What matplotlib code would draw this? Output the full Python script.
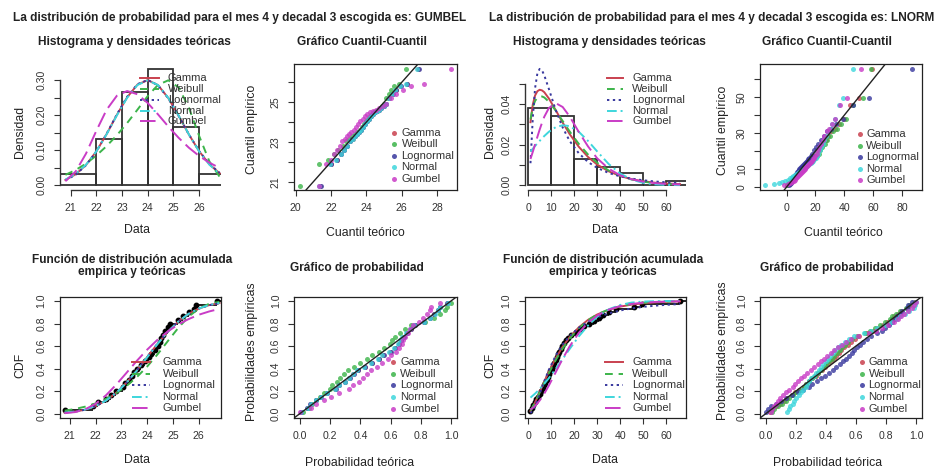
import matplotlib

matplotlib.use("Agg")
import matplotlib.pyplot as plt
import numpy as np

plt.rcParams["font.family"] = ["Liberation Sans", "DejaVu Sans"]

W, H = 939, 472

# ── Data: left block (GUMBEL chosen) ─────────────────────────
DISTS = ["Gamma", "Weibull", "Lognormal", "Normal", "Gumbel"]

hist_L_edges = [20, 22, 23, 24, 25, 26, 27]
hist_L_dens = [0.033, 0.133, 0.267, 0.333, 0.167, 0.033]

grid_L = [20.8, 21.2, 21.6, 22.0, 22.4, 22.8, 23.2, 23.6, 24.0, 24.4, 24.8, 25.2, 25.6, 26.0, 26.4, 26.8]
dens_L_gamma = [0.0155, 0.0316, 0.0582, 0.0966, 0.1463, 0.2011, 0.2515, 0.2878, 0.3005, 0.2863, 0.2493, 0.1991, 0.1455, 0.0974, 0.0600, 0.0342]
dens_L_weibull = [0.030, 0.044, 0.062, 0.085, 0.112, 0.143, 0.178, 0.216, 0.255, 0.287, 0.300, 0.280, 0.222, 0.141, 0.068, 0.024]
dens_L_lnorm = [0.0145, 0.0305, 0.0575, 0.0965, 0.1470, 0.2025, 0.2530, 0.2890, 0.3010, 0.2860, 0.2485, 0.1985, 0.1455, 0.0980, 0.0610, 0.0355]
dens_L_norm = [0.0165, 0.0328, 0.0589, 0.0968, 0.1456, 0.1998, 0.2501, 0.2866, 0.2999, 0.2866, 0.2501, 0.1998, 0.1456, 0.0968, 0.0589, 0.0328]
dens_L_gumbel = [0.0119, 0.0398, 0.0906, 0.1554, 0.2157, 0.2559, 0.2695, 0.2602, 0.2352, 0.2027, 0.1681, 0.1359, 0.1075, 0.0839, 0.0647, 0.0494]

cdf_L_gamma = [0.0072, 0.0166, 0.0347, 0.0660, 0.1146, 0.1842, 0.2748, 0.3833, 0.5015, 0.6197, 0.7272, 0.8167, 0.8852, 0.9328, 0.9635, 0.9815]
cdf_L_weibull = [0.025, 0.040, 0.061, 0.090, 0.130, 0.181, 0.245, 0.324, 0.418, 0.526, 0.644, 0.760, 0.860, 0.933, 0.975, 0.993]
cdf_L_lnorm = [0.0065, 0.0158, 0.0340, 0.0656, 0.1148, 0.1850, 0.2760, 0.3850, 0.5030, 0.6210, 0.7280, 0.8170, 0.8850, 0.9320, 0.9625, 0.9805]
cdf_L_norm = [0.0081, 0.0176, 0.0355, 0.0663, 0.1145, 0.1835, 0.2736, 0.3817, 0.5000, 0.6183, 0.7264, 0.8165, 0.8855, 0.9337, 0.9645, 0.9824]
cdf_L_gumbel = [0.0028, 0.0124, 0.0377, 0.0867, 0.1614, 0.2567, 0.3624, 0.4690, 0.5680, 0.6560, 0.7300, 0.7910, 0.8390, 0.8780, 0.9070, 0.9300]

sample_L = [20.8, 21.9, 22.1, 22.4, 22.6, 22.8, 23.05, 23.15, 23.3, 23.4, 23.5, 23.6, 23.75, 23.9, 24.05,
            24.15, 24.3, 24.4, 24.5, 24.55, 24.6, 24.7, 24.8, 24.9, 25.2, 25.4, 25.6, 25.8, 25.9, 26.7]
ecdf_L = [0.033, 0.067, 0.100, 0.133, 0.167, 0.200, 0.233, 0.267, 0.300, 0.333, 0.367, 0.400, 0.433, 0.467, 0.500,
          0.533, 0.567, 0.600, 0.633, 0.667, 0.700, 0.733, 0.767, 0.800, 0.833, 0.867, 0.900, 0.933, 0.967, 1.000]
pp_L = [0.017, 0.050, 0.083, 0.117, 0.150, 0.183, 0.217, 0.250, 0.283, 0.317, 0.350, 0.383, 0.417, 0.450, 0.483,
        0.517, 0.550, 0.583, 0.617, 0.650, 0.683, 0.717, 0.750, 0.783, 0.817, 0.850, 0.883, 0.917, 0.950, 0.983]

qq_L_gamma = [21.39, 21.99, 22.32, 22.56, 22.76, 22.93, 23.08, 23.22, 23.35, 23.47, 23.59, 23.70, 23.82, 23.93, 24.04,
              24.15, 24.26, 24.37, 24.49, 24.60, 24.72, 24.85, 24.99, 25.13, 25.29, 25.47, 25.68, 25.93, 26.28, 26.93]
qq_L_weibull = [20.25, 21.30, 21.80, 22.15, 22.42, 22.65, 22.85, 23.03, 23.20, 23.35, 23.49, 23.62, 23.75, 23.87, 23.99,
                24.10, 24.21, 24.32, 24.43, 24.54, 24.65, 24.76, 24.88, 25.00, 25.12, 25.26, 25.41, 25.59, 25.83, 26.25]
qq_L_lnorm = [21.42, 22.01, 22.33, 22.57, 22.76, 22.93, 23.08, 23.21, 23.34, 23.46, 23.58, 23.69, 23.81, 23.92, 24.03,
              24.14, 24.25, 24.36, 24.48, 24.60, 24.72, 24.85, 24.99, 25.14, 25.30, 25.49, 25.70, 25.96, 26.32, 26.98]
qq_L_norm = [21.33, 21.96, 22.30, 22.55, 22.75, 22.93, 23.08, 23.22, 23.36, 23.48, 23.60, 23.71, 23.83, 23.94, 24.05,
             24.15, 24.26, 24.37, 24.49, 24.60, 24.72, 24.84, 24.98, 25.12, 25.27, 25.45, 25.65, 25.90, 26.24, 26.87]
qq_L_gumbel = [21.30, 21.72, 21.98, 22.18, 22.35, 22.50, 22.64, 22.77, 22.90, 23.03, 23.15, 23.28, 23.40, 23.53, 23.66,
               23.79, 23.92, 24.06, 24.21, 24.37, 24.54, 24.72, 24.92, 25.14, 25.40, 25.70, 26.07, 26.55, 27.27, 28.80]

pp_L_gamma = [0.005, 0.050, 0.070, 0.108, 0.141, 0.179, 0.234, 0.259, 0.298, 0.325, 0.354, 0.383, 0.428, 0.474, 0.520,
              0.551, 0.596, 0.626, 0.654, 0.668, 0.682, 0.709, 0.734, 0.759, 0.823, 0.859, 0.890, 0.916, 0.927, 0.979]
pp_L_weibull = [0.020, 0.062, 0.078, 0.107, 0.130, 0.157, 0.197, 0.215, 0.245, 0.267, 0.290, 0.315, 0.355, 0.398, 0.443,
                0.475, 0.525, 0.559, 0.594, 0.611, 0.629, 0.664, 0.698, 0.733, 0.830, 0.886, 0.930, 0.962, 0.974, 0.999]
pp_L_lnorm = [0.004, 0.047, 0.067, 0.106, 0.140, 0.179, 0.235, 0.261, 0.300, 0.328, 0.357, 0.386, 0.432, 0.478, 0.524,
              0.555, 0.600, 0.630, 0.658, 0.672, 0.686, 0.712, 0.737, 0.761, 0.824, 0.859, 0.889, 0.914, 0.925, 0.976]
pp_L_norm = [0.007, 0.053, 0.072, 0.109, 0.141, 0.178, 0.232, 0.257, 0.295, 0.322, 0.350, 0.379, 0.424, 0.469, 0.515,
             0.546, 0.591, 0.621, 0.650, 0.664, 0.678, 0.705, 0.731, 0.756, 0.822, 0.859, 0.891, 0.917, 0.928, 0.981]
pp_L_gumbel = [0.003, 0.072, 0.103, 0.161, 0.207, 0.257, 0.322, 0.349, 0.389, 0.416, 0.443, 0.469, 0.508, 0.544, 0.580,
               0.603, 0.636, 0.656, 0.676, 0.685, 0.695, 0.713, 0.730, 0.747, 0.791, 0.817, 0.839, 0.860, 0.869, 0.925]

# ── Data: right block (LNORM chosen) ─────────────────────────
hist_R_edges = [0, 10, 20, 30, 40, 50, 60, 70]
hist_R_dens = [0.0378, 0.0340, 0.0128, 0.0090, 0.0058, 0.0, 0.0020]

grid_R = [1, 2, 3, 4, 5, 6, 7, 9, 12, 15, 18, 22, 26, 30, 35, 40, 45, 50, 55, 60, 66]
dens_R_gamma = [0.0310, 0.0397, 0.0442, 0.0463, 0.0470, 0.0467, 0.0458, 0.0427, 0.0369, 0.0308, 0.0252, 0.0189, 0.0139, 0.0101, 0.0068, 0.0045, 0.0029, 0.0019, 0.0012, 0.0008, 0.0005]
dens_R_weibull = [0.0324, 0.0384, 0.0415, 0.0431, 0.0437, 0.0437, 0.0432, 0.0411, 0.0367, 0.0316, 0.0265, 0.0203, 0.0151, 0.0110, 0.0072, 0.0046, 0.0028, 0.0017, 0.0010, 0.0006, 0.0003]
dens_R_lnorm = [0.0108, 0.0330, 0.0478, 0.0551, 0.0573, 0.0566, 0.0541, 0.0474, 0.0369, 0.0284, 0.0218, 0.0157, 0.0114, 0.0085, 0.0060, 0.0043, 0.0032, 0.0024, 0.0018, 0.0014, 0.0010]
dens_R_norm = [0.0166, 0.0179, 0.0193, 0.0206, 0.0218, 0.0231, 0.0242, 0.0263, 0.0286, 0.0295, 0.0291, 0.0263, 0.0218, 0.0166, 0.0104, 0.0057, 0.0027, 0.0011, 0.0004, 0.0001, 0.0000]
dens_R_gumbel = [0.0129, 0.0164, 0.0201, 0.0238, 0.0274, 0.0307, 0.0337, 0.0380, 0.0404, 0.0385, 0.0339, 0.0262, 0.0191, 0.0132, 0.0081, 0.0048, 0.0029, 0.0017, 0.0010, 0.0006, 0.0003]

cdf_R_gamma = [0.022, 0.057, 0.099, 0.144, 0.191, 0.238, 0.284, 0.372, 0.492, 0.594, 0.678, 0.766, 0.832, 0.880, 0.922, 0.950, 0.968, 0.980, 0.988, 0.993, 0.997]
cdf_R_weibull = [0.025, 0.061, 0.101, 0.143, 0.187, 0.231, 0.274, 0.359, 0.476, 0.578, 0.665, 0.758, 0.829, 0.881, 0.925, 0.954, 0.973, 0.984, 0.991, 0.995, 0.997]
cdf_R_lnorm = [0.003, 0.026, 0.067, 0.119, 0.175, 0.232, 0.288, 0.389, 0.516, 0.613, 0.688, 0.762, 0.815, 0.855, 0.890, 0.916, 0.934, 0.948, 0.958, 0.966, 0.973]
cdf_R_norm = [0.141, 0.159, 0.177, 0.197, 0.218, 0.241, 0.264, 0.315, 0.398, 0.485, 0.573, 0.685, 0.782, 0.859, 0.926, 0.965, 0.986, 0.995, 0.998, 1.000, 1.000]
cdf_R_gumbel = [0.035, 0.050, 0.068, 0.090, 0.116, 0.145, 0.177, 0.249, 0.368, 0.487, 0.596, 0.717, 0.807, 0.871, 0.923, 0.955, 0.974, 0.985, 0.991, 0.995, 0.997]

sample_R = [1.0, 1.5, 2.2, 3.0, 3.6, 4.2, 5.0, 5.6, 6.3, 7.0, 7.4, 8.0, 8.5, 9.1, 9.6, 10.3, 10.8, 11.4, 12.0, 12.5,
            13.0, 13.6, 14.2, 14.8, 15.5, 16.3, 17.2, 18.5, 20.8, 22.5, 24.3, 26.5, 28.6, 31.0, 32.5, 35.0, 38.0, 46.0, 49.5, 66.0]
ecdf_R = [0.025, 0.050, 0.075, 0.100, 0.125, 0.150, 0.175, 0.200, 0.225, 0.250, 0.275, 0.300, 0.325, 0.350, 0.375, 0.400, 0.425, 0.450, 0.475, 0.500,
          0.525, 0.550, 0.575, 0.600, 0.625, 0.650, 0.675, 0.700, 0.725, 0.750, 0.775, 0.800, 0.825, 0.850, 0.875, 0.900, 0.925, 0.950, 0.975, 1.000]
pp_R = [0.0125, 0.0375, 0.0625, 0.0875, 0.1125, 0.1375, 0.1625, 0.1875, 0.2125, 0.2375, 0.2625, 0.2875, 0.3125, 0.3375, 0.3625, 0.3875, 0.4125, 0.4375, 0.4625, 0.4875,
        0.5125, 0.5375, 0.5625, 0.5875, 0.6125, 0.6375, 0.6625, 0.6875, 0.7125, 0.7375, 0.7625, 0.7875, 0.8125, 0.8375, 0.8625, 0.8875, 0.9125, 0.9375, 0.9625, 0.9875]

qq_R_gamma = [0.6, 1.4, 2.1, 2.8, 3.5, 4.1, 4.8, 5.4, 6.0, 6.7, 7.3, 8.0, 8.6, 9.3, 10.0, 10.7, 11.4, 12.1, 12.9, 13.7,
              14.5, 15.3, 16.2, 17.1, 18.1, 19.1, 20.2, 21.3, 22.6, 24.0, 25.5, 27.1, 28.9, 30.9, 33.3, 36.1, 39.6, 44.2, 50.5, 59.0]
qq_R_weibull = [0.4, 1.0, 1.7, 2.4, 3.1, 3.8, 4.5, 5.2, 5.9, 6.6, 7.3, 8.0, 8.7, 9.4, 10.2, 10.9, 11.7, 12.5, 13.3, 14.1,
                15.0, 15.9, 16.8, 17.8, 18.8, 19.9, 21.0, 22.2, 23.5, 24.9, 26.5, 28.2, 30.1, 32.2, 34.7, 37.7, 41.4, 46.3, 53.0, 58.5]
qq_R_lnorm = [1.54, 2.33, 2.91, 3.42, 3.89, 4.34, 4.78, 5.22, 5.65, 6.09, 6.54, 6.99, 7.46, 7.95, 8.44, 8.96, 9.50, 10.06, 10.64, 11.27,
              11.92, 12.62, 13.34, 14.14, 14.98, 15.91, 16.89, 18.00, 19.20, 20.53, 22.04, 23.76, 25.74, 28.10, 30.97, 34.54, 39.25, 46.1, 57.5, 87.1]
qq_R_norm = [-14.8, -8.5, -5.2, -2.8, -0.9, 0.8, 2.2, 3.5, 4.7, 5.9, 6.9, 7.9, 8.9, 9.8, 10.75, 11.65, 12.5, 13.4, 14.2, 15.1,
             15.9, 16.8, 17.6, 18.5, 19.35, 20.25, 21.2, 22.1, 23.1, 24.1, 25.1, 26.3, 27.5, 28.8, 30.2, 31.9, 33.8, 36.2, 39.5, 45.8]
qq_R_gumbel = [-1.45, 1.18, 2.72, 3.90, 4.89, 5.77, 6.57, 7.31, 8.02, 8.70, 9.35, 9.99, 10.63, 11.25, 11.86, 12.48, 13.10, 13.73, 14.37, 15.00,
               15.67, 16.34, 17.03, 17.75, 18.49, 19.26, 20.07, 20.93, 21.84, 22.81, 23.87, 25.02, 26.30, 27.74, 29.40, 31.36, 33.75, 36.94, 41.70, 51.82]

pp_R_gamma = [0.025, 0.041, 0.066, 0.095, 0.117, 0.141, 0.171, 0.196, 0.223, 0.250, 0.266, 0.288, 0.308, 0.330, 0.348, 0.373, 0.391, 0.413, 0.434, 0.450,
              0.466, 0.484, 0.503, 0.522, 0.544, 0.565, 0.590, 0.622, 0.676, 0.711, 0.742, 0.778, 0.809, 0.839, 0.854, 0.879, 0.901, 0.944, 0.959, 0.993]
pp_R_weibull = [0.0375, 0.055, 0.080, 0.109, 0.130, 0.152, 0.180, 0.202, 0.226, 0.252, 0.266, 0.288, 0.305, 0.327, 0.344, 0.366, 0.384, 0.403, 0.422, 0.438,
                0.453, 0.472, 0.490, 0.507, 0.526, 0.548, 0.572, 0.605, 0.658, 0.693, 0.727, 0.763, 0.793, 0.824, 0.841, 0.865, 0.890, 0.936, 0.950, 0.995]
pp_R_lnorm = [0.003, 0.012, 0.032, 0.067, 0.097, 0.130, 0.175, 0.210, 0.249, 0.288, 0.309, 0.340, 0.365, 0.394, 0.417, 0.448, 0.469, 0.493, 0.516, 0.534,
              0.551, 0.571, 0.589, 0.607, 0.627, 0.648, 0.670, 0.698, 0.742, 0.770, 0.794, 0.821, 0.842, 0.863, 0.874, 0.890, 0.907, 0.937, 0.947, 0.973]
pp_R_norm = [0.141, 0.150, 0.162, 0.177, 0.189, 0.201, 0.218, 0.232, 0.248, 0.264, 0.274, 0.289, 0.302, 0.318, 0.331, 0.350, 0.364, 0.381, 0.398, 0.412,
             0.427, 0.444, 0.462, 0.479, 0.500, 0.524, 0.550, 0.588, 0.653, 0.698, 0.743, 0.792, 0.834, 0.875, 0.896, 0.926, 0.952, 0.988, 0.994, 1.000]
pp_R_gumbel = [0.035, 0.042, 0.053, 0.068, 0.081, 0.095, 0.116, 0.133, 0.154, 0.177, 0.191, 0.212, 0.230, 0.253, 0.272, 0.299, 0.320, 0.344, 0.368, 0.388,
               0.408, 0.432, 0.456, 0.480, 0.506, 0.536, 0.568, 0.613, 0.684, 0.730, 0.772, 0.816, 0.851, 0.883, 0.900, 0.923, 0.944, 0.976, 0.984, 0.997]

# ── Styles ───────────────────────────────────────────────────
COLS = ["#c9414f", "#3cb44a", "#38389e", "#3ed6dc", "#c93cc6"]
LSTY = ["-", (0, (4, 3)), (0, (1.2, 1.8)), (0, (5, 2, 1, 2)), (0, (8, 3))]
TXT = "#222222"
LEG_FS = 8

fig = plt.figure(figsize=(W / 100, H / 100), dpi=100)
fig.patch.set_facecolor("white")


def px_axes(x0, x1, y0, y1):
    return fig.add_axes([x0 / W, 1 - y1 / H, (x1 - x0) / W, (y1 - y0) / H])


def ftext(x, y, s, **kw):
    fig.text(x / W, 1 - y / H, s, ha="center", va="center", color=TXT, **kw)


def setup(ax, xlim, ylim, xt, xl, yt, yl, boxed=True):
    ax.set_xlim(*xlim)
    ax.set_ylim(*ylim)
    ax.set_xticks(xt, labels=xl)
    ax.set_yticks(yt, labels=yl)
    ax.tick_params(direction="out", length=4, width=0.8, labelsize=7.6,
                   colors="#333333", labelcolor="#333333")
    ax.tick_params(axis="x", pad=5.5)
    ax.tick_params(axis="y", pad=5.5)
    for t in ax.get_yticklabels():
        t.set_rotation(90)
        t.set_verticalalignment("center")
    if boxed:
        for s in ax.spines.values():
            s.set_linewidth(0.9)
            s.set_color("#222222")
    else:
        ax.spines["top"].set_visible(False)
        ax.spines["right"].set_visible(False)
        ax.spines["left"].set_bounds(yt[0], yt[-1])
        ax.spines["bottom"].set_bounds(xt[0], xt[-1])
        for s in ("left", "bottom"):
            ax.spines[s].set_linewidth(1.0)
            ax.spines[s].set_color("#333333")


def line_legend(ax, x0, x1, xt, y0, dy):
    for i, name in enumerate(DISTS):
        y = y0 - i * dy
        ax.plot([x0, x1], [y, y], transform=ax.transAxes, color=COLS[i],
                ls=LSTY[i], lw=1.4, clip_on=False)
        ax.text(xt, y, name, transform=ax.transAxes, fontsize=LEG_FS, va="center",
                color="#333333")


def point_legend(ax, xm, xt, y0, dy):
    for i, name in enumerate(DISTS):
        y = y0 - i * dy
        ax.plot([xm], [y], "o", transform=ax.transAxes, color=COLS[i], ms=3.6,
                mec="none", alpha=0.85, clip_on=False)
        ax.text(xt, y, name, transform=ax.transAxes, fontsize=LEG_FS, va="center",
                color="#333333")


C1, C2, C3, C4 = (59.5, 220.5), (294, 457), (524.5, 686), (760, 922)
TOP, BOT = (64, 190), (296.5, 418)

# ── Panel 1: histogram, left ─────────────────────────────────
ax = px_axes(*C1, *TOP)
ax.bar(hist_L_edges[:-1], hist_L_dens, width=np.diff(hist_L_edges), align="edge",
       fill=False, edgecolor="#333333", linewidth=1.3)
for i, d in enumerate([dens_L_gamma, dens_L_weibull, dens_L_lnorm, dens_L_norm, dens_L_gumbel]):
    ax.plot(grid_L, d, color=COLS[i], ls=LSTY[i], lw=1.4)
setup(ax, (20.57, 26.83), (-0.0133, 0.3466), [21, 22, 23, 24, 25, 26],
      ["21", "22", "23", "24", "25", "26"], [0, 0.05, 0.10, 0.15, 0.20, 0.25, 0.30],
      ["0.00", "", "0.10", "", "0.20", "", "0.30"], boxed=False)
line_legend(ax, 0.50, 0.62, 0.672, 0.888, 0.086)

# ── Panel 2: QQ, left ────────────────────────────────────────
ax = px_axes(*C2, *TOP)
for i, q in enumerate([qq_L_gamma, qq_L_weibull, qq_L_lnorm, qq_L_norm, qq_L_gumbel]):
    ax.plot(q, sample_L, "o", color=COLS[i], ms=3.6, mec="none", alpha=0.8)
ax.axline((21, 21), slope=1, color="#222222", lw=1.0)
setup(ax, (19.9, 29.14), (20.58, 26.93), [20, 22, 24, 26, 28], ["20", "22", "24", "26", "28"],
      [21, 22, 23, 24, 25, 26], ["21", "", "23", "", "25", ""])
point_legend(ax, 0.615, 0.66, 0.455, 0.092)

# ── Panel 3: CDF, left ───────────────────────────────────────
ax = px_axes(*C1, *BOT)
ax.hlines(ecdf_L[:-1], sample_L[:-1], sample_L[1:], color="black", lw=1.2)
ax.hlines([ecdf_L[-1]], [sample_L[-1]], [26.84], color="black", lw=1.2)
ax.plot(sample_L, ecdf_L, "o", color="black", ms=3.2)
for i, c in enumerate([cdf_L_gamma, cdf_L_weibull, cdf_L_lnorm, cdf_L_norm, cdf_L_gumbel]):
    ax.plot(grid_L, c, color=COLS[i], ls=LSTY[i], lw=1.4)
setup(ax, (20.6, 26.84), (-0.04, 1.04), [21, 22, 23, 24, 25, 26], ["21", "22", "23", "24", "25", "26"],
      [0, 0.2, 0.4, 0.6, 0.8, 1.0], ["0.0", "0.2", "0.4", "0.6", "0.8", "1.0"])
line_legend(ax, 0.448, 0.562, 0.64, 0.458, 0.094)

# ── Panel 4: PP, left ────────────────────────────────────────
ax = px_axes(*C2, *BOT)
for i, p in enumerate([pp_L_gamma, pp_L_weibull, pp_L_lnorm, pp_L_norm, pp_L_gumbel]):
    ax.plot(p, pp_L, "o", color=COLS[i], ms=3.6, mec="none", alpha=0.8)
ax.axline((0, 0), slope=1, color="#222222", lw=1.0)
ticks01 = [0, 0.2, 0.4, 0.6, 0.8, 1.0]
lab01 = ["0.0", "0.2", "0.4", "0.6", "0.8", "1.0"]
setup(ax, (-0.04, 1.04), (-0.04, 1.04), ticks01, lab01, ticks01, lab01)
point_legend(ax, 0.605, 0.652, 0.458, 0.095)

# ── Panel 5: histogram, right ────────────────────────────────
ax = px_axes(*C3, *TOP)
ax.bar(hist_R_edges[:-1], hist_R_dens, width=np.diff(hist_R_edges), align="edge",
       fill=False, edgecolor="#333333", linewidth=1.3)
for i, d in enumerate([dens_R_gamma, dens_R_weibull, dens_R_lnorm, dens_R_norm, dens_R_gumbel]):
    ax.plot(grid_R, d, color=COLS[i], ls=LSTY[i], lw=1.4)
setup(ax, (-1.6, 68.6), (-0.0024, 0.0597), [0, 10, 20, 30, 40, 50, 60],
      ["0", "10", "20", "30", "40", "50", "60"], [0, 0.01, 0.02, 0.03, 0.04, 0.05],
      ["0.00", "", "0.02", "", "0.04", ""], boxed=False)
line_legend(ax, 0.509, 0.612, 0.668, 0.888, 0.086)

# ── Panel 6: QQ, right ───────────────────────────────────────
ax = px_axes(*C4, *TOP)
for i, q in enumerate([qq_R_gamma, qq_R_weibull, qq_R_lnorm, qq_R_norm, qq_R_gumbel]):
    ax.plot(q, sample_R, "o", color=COLS[i], ms=3.6, mec="none", alpha=0.8)
ax.axline((0, 0), slope=1, color="#222222", lw=1.0)
setup(ax, (-18.4, 94), (-1.6, 68.6), [0, 20, 40, 60, 80], ["0", "20", "40", "60", "80"],
      [0, 10, 20, 30, 40, 50, 60], ["0", "10", "", "30", "", "50", ""])
point_legend(ax, 0.615, 0.655, 0.444, 0.092)

# ── Panel 7: CDF, right ──────────────────────────────────────
ax = px_axes(*C3, *BOT)
ax.hlines(ecdf_R[:-1], sample_R[:-1], sample_R[1:], color="black", lw=1.2)
ax.hlines([ecdf_R[-1]], [sample_R[-1]], [68.6], color="black", lw=1.2)
ax.plot(sample_R, ecdf_R, "o", color="black", ms=3.2)
for i, c in enumerate([cdf_R_gamma, cdf_R_weibull, cdf_R_lnorm, cdf_R_norm, cdf_R_gumbel]):
    ax.plot(grid_R, c, color=COLS[i], ls=LSTY[i], lw=1.4)
setup(ax, (-1.6, 68.6), (-0.04, 1.04), [0, 10, 20, 30, 40, 50, 60],
      ["0", "10", "20", "30", "40", "50", "60"], ticks01, lab01)
line_legend(ax, 0.498, 0.612, 0.668, 0.458, 0.094)

# ── Panel 8: PP, right ───────────────────────────────────────
ax = px_axes(*C4, *BOT)
for i, p in enumerate([pp_R_gamma, pp_R_weibull, pp_R_lnorm, pp_R_norm, pp_R_gumbel]):
    ax.plot(p, pp_R, "o", color=COLS[i], ms=3.6, mec="none", alpha=0.8)
ax.axline((0, 0), slope=1, color="#222222", lw=1.0)
setup(ax, (-0.04, 1.04), (-0.04, 1.04), ticks01, lab01, ticks01, lab01)
point_legend(ax, 0.63, 0.67, 0.458, 0.095)

# ── Titles and axis labels ───────────────────────────────────
ftext(240, 18, "La distribución de probabilidad para el mes 4 y decadal 3 escogida es: GUMBEL",
      fontsize=8.6, fontweight="bold")
ftext(712, 18, "La distribución de probabilidad para el mes 4 y decadal 3 escogida es: LNORM",
      fontsize=8.6, fontweight="bold")

for x, s in [(134, "Histograma y densidades teóricas"), (362, "Gráfico Cuantil-Cuantil"),
             (609, "Histograma y densidades teóricas"), (827, "Gráfico Cuantil-Cuantil")]:
    ftext(x, 42, s, fontsize=8.6, fontweight="bold")
for x in (132, 603):
    ftext(x, 260, "Función de distribución acumulada", fontsize=8.6, fontweight="bold")
    ftext(x, 272, "empirica y teóricas", fontsize=8.6, fontweight="bold")
for x in (357, 827):
    ftext(x, 268, "Gráfico de probabilidad", fontsize=8.6, fontweight="bold")

for x, y, s in [(137, 230, "Data"), (365, 233, "Cuantil teórico"), (605, 230, "Data"),
                (843, 233, "Cuantil teórico"), (137, 460, "Data"), (360, 463, "Probabilidad teórica"),
                (605, 460, "Data"), (828, 463, "Probabilidad teórica")]:
    ftext(x, y, s, fontsize=8.8)
for x, y, s in [(20, 132, "Densidad"), (252, 129, "Cuantil empírico"), (490, 132, "Densidad"),
                (723, 130, "Cuantil empírico"), (20, 365, "CDF"), (252, 352, "Probabilidades empíricas"),
                (490, 365, "CDF"), (723, 351, "Probabilidades empíricas")]:
    ftext(x, y, s, fontsize=8.8, rotation=90)

fig.savefig("out.png", dpi=100)
